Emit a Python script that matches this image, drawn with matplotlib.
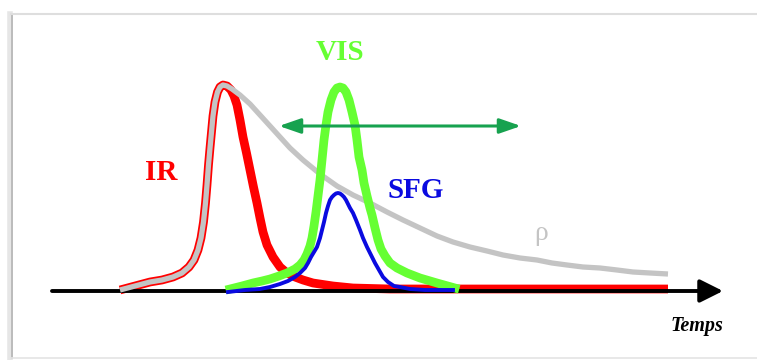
import matplotlib.pyplot as plt
from matplotlib.lines import Line2D

# time axis in arbitrary units, amplitude above the baseline
rise_t = [120, 135, 150, 162, 173, 182, 189, 194, 198, 201, 203.5, 205.5, 207, 208.5, 210,
          211.5, 213, 215, 217.5, 220, 223]
rise_a = [1, 5, 9, 11, 14, 18, 24, 31, 41, 53, 69, 88, 106, 126, 143,
          159, 175, 189, 199, 204, 206]

rho_t = rise_t + [227, 232, 240, 250, 260, 270, 280, 290, 303, 320, 337, 353, 370, 387, 403,
                  420, 437, 453, 470, 487, 503, 520, 537, 552, 567, 583, 600, 617, 633, 650, 668]
rho_a = rise_a + [205, 202, 196, 187, 176, 165, 154, 143, 131, 117, 105, 96, 88, 79, 71,
                  63, 55, 49, 44, 40, 36, 33, 31, 28, 26, 24, 23, 21, 19, 18, 17]

ir_t = rise_t + [227, 231, 234, 237, 240, 243, 246.5, 250, 253.5, 257, 260, 263, 267, 273, 280,
                 287, 295, 303, 313, 333, 353, 390, 420, 668]
ir_a = rise_a + [205, 201, 195, 186, 171, 154, 138, 121, 104, 88, 73, 59, 46, 34, 24,
                 18, 14, 11, 8, 5, 3, 2, 2, 2]

vis_t = [230, 242, 253, 262, 270, 279, 287, 295, 300, 304, 307, 310, 312, 314, 316, 318, 320,
         322, 324, 326, 328, 331, 334, 337, 340, 343, 346, 349, 352, 355, 357, 359, 362, 364,
         367, 370, 372, 375, 378, 381, 385, 390, 397, 407, 420, 437, 455]
vis_a = [2, 5, 8, 10, 12, 15, 18, 22, 26, 31, 37, 45, 53, 65, 79, 95, 111,
         131, 151, 166, 179, 191, 199, 203, 204, 203, 199, 191, 179, 166, 151, 134, 121, 108,
         95, 83, 76, 63, 51, 42, 35, 28, 23, 18, 13, 8, 3]

sfg_t = [228, 245, 260, 270, 280, 288, 295, 300, 305, 308, 311, 314, 317, 320, 322, 324, 326,
         328, 330, 332, 334, 336, 338, 340, 342, 344, 346, 348, 350, 353, 356, 360, 363, 367,
         371, 375, 379, 383, 388, 394, 400, 410, 425, 453]
sfg_a = [-1, 1, 2, 4, 7, 10, 14, 18, 23, 28, 34, 39, 44, 53, 61, 69, 78,
         85, 91, 94, 96, 97.5, 98, 97.5, 96, 94, 91, 87, 83, 78, 71, 61, 53, 44,
         36, 28, 21, 14, 9, 5, 4, 2, 1, 1]

delay_range = (279, 521)   # scan range of the VIS delay
delay_level = 165
time_axis = (52, 723)

RED = '#ff0000'
GRAY = '#c4c4c4'
LGREEN = '#66ff33'
BLUE = '#0a0ae0'
DGREEN = '#17a24f'

fig = plt.figure(figsize=(7.57, 3.6), dpi=100)
ax = fig.add_axes([0, 0, 1, 1])
ax.set_xlim(0, 757)
ax.set_ylim(-69, 291)
ax.axis('off')

ax.plot(ir_t, ir_a, color=RED, lw=6.3, solid_capstyle='butt', solid_joinstyle='round', zorder=1)
ax.annotate('', xy=(time_axis[1], 0), xytext=(time_axis[0], 0),
            arrowprops=dict(arrowstyle='-|>,head_length=1.4,head_width=0.7',
                            color='black', lw=2.8, shrinkA=0, shrinkB=0), zorder=2)
ax.plot(rho_t, rho_a, color=GRAY, lw=3.8, solid_capstyle='butt', solid_joinstyle='round', zorder=3)
ax.plot(vis_t, vis_a, color=LGREEN, lw=6.3, solid_joinstyle='round', zorder=4)
ax.plot(sfg_t, sfg_a, color=BLUE, lw=2.8, solid_joinstyle='round', zorder=5)
ax.annotate('', xy=(delay_range[1], delay_level), xytext=(delay_range[0], delay_level),
            arrowprops=dict(arrowstyle='<|-|>,head_length=1.3,head_width=0.45',
                            color=DGREEN, lw=2.2, shrinkA=0, shrinkB=0), zorder=6)

serif = 'Liberation Serif'
ax.text(161, 118, 'IR', color=RED, fontsize=21, fontweight='bold', family=serif,
        ha='center', va='center')
ax.text(340, 239, 'VIS', color=LGREEN, fontsize=21, fontweight='bold', family=serif,
        ha='center', va='center')
ax.text(416, 101, 'SFG', color=BLUE, fontsize=21, fontweight='bold', family=serif,
        ha='center', va='center')
ax.text(541, 57, 'ρ', color=GRAY, fontsize=20, family=serif,
        ha='center', va='center')
ax.text(697, -35, 'Temps', color='black', fontsize=14.5, fontweight='bold',
        fontstyle='italic', family=serif, ha='center', va='center')

# frame with a light shadow on the left
fig.add_artist(Line2D([10 / 757, 10 / 757], [2 / 360, 346 / 360], color='#e6e6e6', lw=4))
fig.add_artist(Line2D([11.5 / 757, 11.5 / 757], [2 / 360, 346 / 360], color='#b8b8b8', lw=1.3))
fig.add_artist(Line2D([11 / 757, 1], [346 / 360, 346 / 360], color='#dedede', lw=1.5))
fig.add_artist(Line2D([11 / 757, 1], [2 / 360, 2 / 360], color='#e4e4e4', lw=1.2))

fig.savefig('out.png', dpi=100)
